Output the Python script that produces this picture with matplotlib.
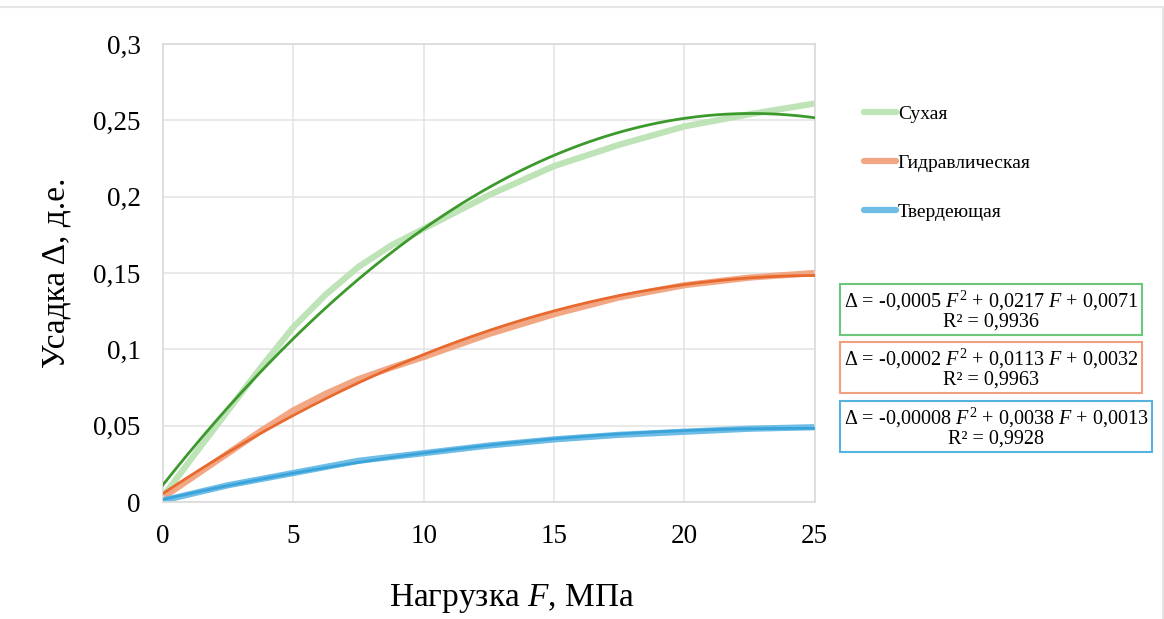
import numpy as np
import matplotlib
matplotlib.use('Agg')
import matplotlib.pyplot as plt
from matplotlib.ticker import FuncFormatter, MultipleLocator
from matplotlib.lines import Line2D

plt.rcParams['font.family'] = ['Liberation Serif', 'DejaVu Serif']
plt.rcParams['mathtext.fontset'] = 'custom'
plt.rcParams['mathtext.rm'] = 'Liberation Serif'
plt.rcParams['mathtext.it'] = 'Liberation Serif:italic'

# нагрузка F, МПа
load = [0, 1.25, 2.5, 3.75, 5, 6.25, 7.5, 8.75, 10, 12.5, 15, 17.5, 20, 22.5, 25]
# усадка, д.е.
dry = [0.0035, 0.032, 0.060, 0.088, 0.1145, 0.136, 0.154, 0.168, 0.179,
       0.201, 0.220, 0.234, 0.246, 0.254, 0.261]
hydraulic = [0.003, 0.0175, 0.032, 0.0465, 0.060, 0.071, 0.0805, 0.088, 0.095,
             0.110, 0.123, 0.134, 0.142, 0.147, 0.150]
hardening = [0.001, 0.006, 0.011, 0.015, 0.019, 0.023, 0.027, 0.0295, 0.032,
             0.037, 0.041, 0.044, 0.046, 0.048, 0.049]

names = ['Сухая', 'Гидравлическая', 'Твердеющая']
equations = ['Δ = -0,0005 $\\it{F}^2$ + 0,0217 $\\it{F}$ + 0,0071\nR² = 0,9936',
             'Δ = -0,0002 $\\it{F}^2$ + 0,0113 $\\it{F}$ + 0,0032\nR² = 0,9963',
             'Δ = -0,00008 $\\it{F}^2$ + 0,0038 $\\it{F}$ + 0,0013\nR² = 0,9928']

light_colors = ['#bde3b6', '#f2a784', '#6fbde6']
dark_colors = ['#3c9a2c', '#e8692e', '#3aa4da']
box_colors = ['#6cc77c', '#f0a07e', '#55b3e0']

fig = plt.figure(figsize=(11.64, 6.19), dpi=100)
ax = fig.add_axes([0.140, 0.189, 0.560, 0.740])

series = [dry, hydraulic, hardening]
ff = np.linspace(0, 25, 200)
for i, ys in enumerate(series):
    ax.plot(load, ys, color=light_colors[i], lw=4.5, label=names[i],
            solid_capstyle='round', solid_joinstyle='round', zorder=2)
for i, ys in enumerate(series):
    # полиномиальный тренд 2-й степени
    coef = np.polyfit(load, ys, 2)
    ax.plot(ff, np.polyval(coef, ff), color=dark_colors[i], lw=2.0, zorder=3)

ax.set_xlim(0, 25)
ax.set_ylim(0, 0.3)
ax.xaxis.set_major_locator(MultipleLocator(5))
ax.yaxis.set_major_locator(MultipleLocator(0.05))
fmt = FuncFormatter(lambda v, p: ('%g' % round(v, 3)).replace('.', ','))
ax.xaxis.set_major_formatter(fmt)
ax.yaxis.set_major_formatter(fmt)
ax.tick_params(length=0, labelsize=19.5)
ax.tick_params(axis='y', pad=16)
ax.tick_params(axis='x', pad=16)
ax.grid(True, color='#e3e3e3', lw=1.1)
ax.set_axisbelow(True)
for s in ax.spines.values():
    s.set_color('#dadada')
    s.set_linewidth(1.2)

ax.set_xlabel('Нагрузка $\\it{F}$, МПа', fontsize=24, labelpad=20)
ax.xaxis.set_label_coords(0.535, -0.175)
ax.set_ylabel('Усадка Δ, д.е.', fontsize=24, labelpad=16)

fig.legend(loc='upper left', bbox_to_anchor=(0.727, 0.858), frameon=False,
           fontsize=14, handlelength=1.65, handletextpad=0.1, labelspacing=1.62)

box_pos = [(991, 310), (991, 368), (996, 427)]
for i in range(3):
    x, y = box_pos[i]
    fig.text(x / 1164, 1 - y / 619, equations[i], ha='center', va='center',
             fontsize=14.5, linespacing=0.95,
             bbox=dict(boxstyle='square,pad=0.2', fc='white', ec=box_colors[i], lw=1.5))

# рамка рисунка
fig.add_artist(Line2D([0, 1], [1 - 7 / 619, 1 - 7 / 619], color='#e6e6e6', lw=1.5))
fig.add_artist(Line2D([0.999, 0.999], [0, 1 - 7 / 619], color='#e6e6e6', lw=1.5))

fig.savefig('out.png', dpi=100)
